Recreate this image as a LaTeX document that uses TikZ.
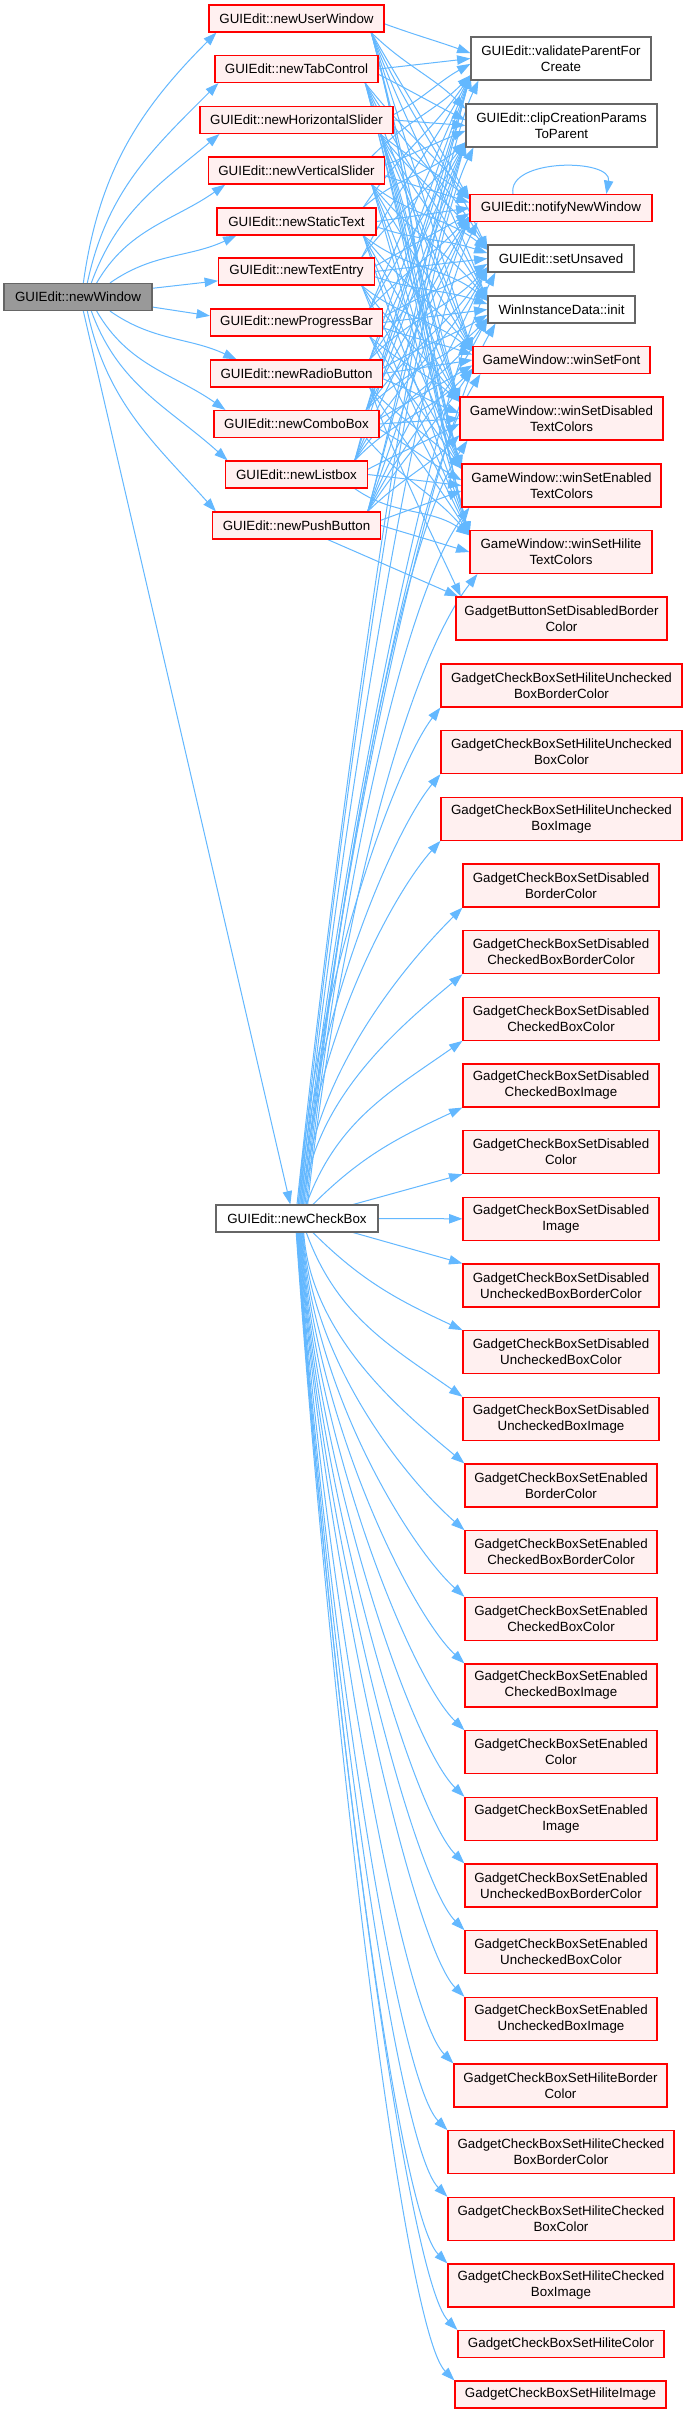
\documentclass[tikz,border=0pt]{standalone}
\usepackage{fontspec}
\setmainfont{Liberation Sans}
\usetikzlibrary{arrows.meta}
\definecolor{edgeblue}{HTML}{63B8FF}
\definecolor{nodered}{HTML}{FF0000}
\definecolor{nodepink}{HTML}{FFF0F0}
\definecolor{nodegray}{HTML}{666666}
\definecolor{rootfill}{HTML}{999999}
\pgfdeclarelayer{background}
\pgfsetlayers{background,main}
\begin{document}
\begin{tikzpicture}[x=0.75pt,y=-0.75pt,
  base/.style={draw, line width=0.85pt, inner sep=0pt, align=center, font=\fontsize{10pt}{12pt}\selectfont, minimum height=20.25pt},
  rbox/.style={base, draw=nodered, fill=nodepink},
  gbox/.style={base, draw=nodegray, fill=white},
  rootbox/.style={base, draw=nodegray, fill=rootfill},
  tall/.style={minimum height=32.25pt},
  boxw/.style={minimum width=#1*0.75pt},
  cg/.style={draw=edgeblue, line width=0.75pt, -{Triangle[length=10pt,width=7pt]}},
]
\begin{pgfonlayer}{background}
\fill[white] (0,0) rectangle (687,2413);
\end{pgfonlayer}
\useasboundingbox (0,0) rectangle (687,2413);

% root and middle column
\node[rootbox,boxw=148] (NW) at (78,297) {GUIEdit::newWindow};
\node[rbox,boxw=175] (UW) at (296.5,18.5) {GUIEdit::newUserWindow};
\node[rbox,boxw=163] (TC) at (296.5,69) {GUIEdit::newTabControl};
\node[rbox,boxw=193] (HS) at (296.5,120) {GUIEdit::newHorizontalSlider};
\node[rbox,boxw=176] (VS) at (296.5,170.5) {GUIEdit::newVerticalSlider};
\node[rbox,boxw=159] (ST) at (296.5,221.5) {GUIEdit::newStaticText};
\node[rbox,boxw=156] (TE) at (296.5,271.5) {GUIEdit::newTextEntry};
\node[rbox,boxw=172] (PB) at (296.5,322.5) {GUIEdit::newProgressBar};
\node[rbox,boxw=172] (RB) at (296.5,373.5) {GUIEdit::newRadioButton};
\node[rbox,boxw=165] (CB) at (296.5,424) {GUIEdit::newComboBox};
\node[rbox,boxw=142] (LB) at (296.5,474.5) {GUIEdit::newListbox};
\node[rbox,boxw=168] (PBt) at (296.5,525.5) {GUIEdit::newPushButton};
\node[gbox,boxw=162] (CK) at (297,1218.5) {GUIEdit::newCheckBox};

% right column
\node[gbox,tall,boxw=180] (VP) at (561,58.5) {GUIEdit::validateParentFor\\Create};
\node[gbox,tall,boxw=191] (CP) at (561.5,125.5) {GUIEdit::clipCreationParams\\ToParent};
\node[rbox,boxw=182] (NN) at (561,208) {GUIEdit::notifyNewWindow};
\node[gbox,boxw=146] (SU) at (561,258.5) {GUIEdit::setUnsaved};
\node[gbox,boxw=147] (II) at (561.5,309.5) {WinInstanceData::init};
\node[rbox,boxw=177] (WF) at (561.5,360) {GameWindow::winSetFont};
\node[rbox,tall,boxw=203] (WD) at (561.5,418.5) {GameWindow::winSetDisabled\\TextColors};
\node[rbox,tall,boxw=199] (WE) at (561.5,485.5) {GameWindow::winSetEnabled\\TextColors};
\node[rbox,tall,boxw=182] (WH) at (561,552) {GameWindow::winSetHilite\\TextColors};
\node[rbox,tall,boxw=211] (GB) at (561.5,618.5) {GadgetButtonSetDisabledBorder\\Color};
\node[rbox,tall,boxw=241] (K2) at (561.5,685.5) {GadgetCheckBoxSetHiliteUnchecked\\BoxBorderColor};
\node[rbox,tall,boxw=241] (K3) at (561.5,752.2) {GadgetCheckBoxSetHiliteUnchecked\\BoxColor};
\node[rbox,tall,boxw=241] (K4) at (561.5,818.8) {GadgetCheckBoxSetHiliteUnchecked\\BoxImage};
\node[rbox,tall,boxw=196] (K5) at (561,885.5) {GadgetCheckBoxSetDisabled\\BorderColor};
\node[rbox,tall,boxw=196] (K6) at (561,952.2) {GadgetCheckBoxSetDisabled\\CheckedBoxBorderColor};
\node[rbox,tall,boxw=196] (K7) at (561,1018.8) {GadgetCheckBoxSetDisabled\\CheckedBoxColor};
\node[rbox,tall,boxw=196] (K8) at (561,1085.5) {GadgetCheckBoxSetDisabled\\CheckedBoxImage};
\node[rbox,tall,boxw=196] (K9) at (561,1152.2) {GadgetCheckBoxSetDisabled\\Color};
\node[rbox,tall,boxw=196] (K10) at (561,1218.8) {GadgetCheckBoxSetDisabled\\Image};
\node[rbox,tall,boxw=196] (K11) at (561,1285.5) {GadgetCheckBoxSetDisabled\\UncheckedBoxBorderColor};
\node[rbox,tall,boxw=196] (K12) at (561,1352.2) {GadgetCheckBoxSetDisabled\\UncheckedBoxColor};
\node[rbox,tall,boxw=196] (K13) at (561,1418.8) {GadgetCheckBoxSetDisabled\\UncheckedBoxImage};
\node[rbox,tall,boxw=192] (K14) at (561,1485.5) {GadgetCheckBoxSetEnabled\\BorderColor};
\node[rbox,tall,boxw=192] (K15) at (561,1552.2) {GadgetCheckBoxSetEnabled\\CheckedBoxBorderColor};
\node[rbox,tall,boxw=192] (K16) at (561,1618.8) {GadgetCheckBoxSetEnabled\\CheckedBoxColor};
\node[rbox,tall,boxw=192] (K17) at (561,1685.5) {GadgetCheckBoxSetEnabled\\CheckedBoxImage};
\node[rbox,tall,boxw=192] (K18) at (561,1752.2) {GadgetCheckBoxSetEnabled\\Color};
\node[rbox,tall,boxw=192] (K19) at (561,1818.8) {GadgetCheckBoxSetEnabled\\Image};
\node[rbox,tall,boxw=192] (K20) at (561,1885.5) {GadgetCheckBoxSetEnabled\\UncheckedBoxBorderColor};
\node[rbox,tall,boxw=192] (K21) at (561,1952.2) {GadgetCheckBoxSetEnabled\\UncheckedBoxColor};
\node[rbox,tall,boxw=192] (K22) at (561,2018.8) {GadgetCheckBoxSetEnabled\\UncheckedBoxImage};
\node[rbox,tall,boxw=213] (K23) at (560.5,2085.5) {GadgetCheckBoxSetHiliteBorder\\Color};
\node[rbox,tall,boxw=226] (K24) at (561,2152.2) {GadgetCheckBoxSetHiliteChecked\\BoxBorderColor};
\node[rbox,tall,boxw=226] (K25) at (561,2218.8) {GadgetCheckBoxSetHiliteChecked\\BoxColor};
\node[rbox,tall,boxw=226] (K26) at (561,2285.5) {GadgetCheckBoxSetHiliteChecked\\BoxImage};
\node[rbox,boxw=206] (K27) at (561,2344) {GadgetCheckBoxSetHiliteColor};
\node[rbox,boxw=211] (K28) at (560.5,2394.5) {GadgetCheckBoxSetHiliteImage};

\begin{pgfonlayer}{background}
% root -> middle
\draw[cg] ([xshift=4pt]NW.north) to[out=82,in=225] ([xshift=6pt]UW.south west);
\draw[cg] ([xshift=7pt]NW.north) to[out=78,in=225] ([xshift=3pt]TC.south west);
\draw[cg] ([xshift=10pt]NW.north) to[out=70,in=220] ([xshift=15pt]HS.south west);
\draw[cg] ([xshift=14pt]NW.north) to[out=60,in=215] ([xshift=13pt]VS.south west);
\draw[cg] ([xshift=24pt]NW.north) to[out=35,in=205] ([xshift=15pt]ST.south west);
\draw[cg] ([yshift=-4pt]NW.north east) -- ([yshift=-7pt]TE.west);
\draw[cg] ([yshift=3pt]NW.south east) -- ([yshift=5pt]PB.west);
\draw[cg] ([xshift=24pt]NW.south) to[out=-35,in=155] ([xshift=20pt]RB.north west);
\draw[cg] ([xshift=14pt]NW.south) to[out=-60,in=145] ([xshift=9pt]CB.north west);
\draw[cg] ([xshift=10pt]NW.south) to[out=-70,in=138] ([xshift=2pt]LB.north west);
\draw[cg] ([xshift=7pt]NW.south) to[out=-78,in=132] ([xshift=3pt]PBt.north west);
\draw[cg] ([xshift=4pt]NW.south) -- ([xshift=-5pt]CK.north);

% middle -> shared callees
\foreach \s/\sy in {UW/18.5,TC/69,HS/120,VS/170.5,ST/221.5,TE/271.5,PB/322.5,RB/373.5,CB/424,LB/474.5,PBt/525.5}{
  \foreach \t/\ty in {VP/58.5,CP/125.5,NN/208,SU/258.5,II/309.5,WF/360,WD/418.5,WE/485.5,WH/552}{
    \pgfmathsetmacro\dy{\ty-\sy}
    \pgfmathsetmacro\ady{abs(\dy)}
    \pgfmathsetmacro\ang{min(75,atan(\ady/110))}
    \pgfmathsetmacro\angdn{-\ang}
    \pgfmathsetmacro\indn{180-\ang}
    \pgfmathsetmacro\inup{180+\ang}
    \ifdim\ady pt<30pt
      \draw[cg] (\s.east) -- (\t.west);
    \else\ifdim\dy pt>0pt
      \ifdim\ang pt<35pt
        \draw[cg] ([yshift=-4pt]\s.east) to[out=\angdn,in=\indn] ([yshift=4pt]\t.west);
      \else
        \draw[cg] ([xshift=-10pt]\s.south east) to[out=\angdn,in=\indn] ([yshift=-4pt]\t.north west);
      \fi
    \else
      \ifdim\ang pt<35pt
        \draw[cg] ([yshift=4pt]\s.east) to[out=\ang,in=\inup] ([yshift=-4pt]\t.west);
      \else
        \draw[cg] ([xshift=-10pt]\s.north east) to[out=\ang,in=\inup] ([yshift=4pt]\t.south west);
      \fi
    \fi\fi
  }
}

% button border colour
\draw[cg] ([xshift=-40pt]PBt.south east) -- ([xshift=2pt]GB.north west);
\draw[cg] ([xshift=-10pt]RB.south east) to[out=-70,in=115] ([xshift=4pt]GB.north west);

% self loop
\draw[cg] ([xshift=-36pt]NN.north) to[out=100,in=80] ([xshift=34pt]NN.north);

% newCheckBox -> shared callees
\foreach \t/\ty/\dx/\ia in {VP/58.5/0/245,CP/125.5/1/244,NN/208/2/243,SU/258.5/3/242,II/309.5/4/240,WF/360/5/238,WD/418.5/6/236,WE/485.5/7/234,WH/552/8/232}{
  \pgfmathsetmacro\od{0.30*(1205-\ty)}
  \draw[cg] ([xshift=\dx pt]CK.north) to[out=84,in=\ia,out distance=\od pt,in distance=90pt] ([xshift=6pt]\t.south west);
}

% newCheckBox -> gadget check box setters
\foreach \k/\dy/\dx/\ia in {2/533/1/232,3/467/2/230,4/400/3/228,5/333/4/225,6/267/5/220}{
  \pgfmathsetmacro\od{0.3*\dy}
  \draw[cg] ([xshift=\dx pt]CK.north) to[out=86,in=\ia,out distance=\od pt,in distance=55pt] (K\k.south west);
}
\draw[cg] ([xshift=7pt]CK.north) to[out=70,in=215] (K7.south west);
\draw[cg] ([xshift=12pt]CK.north) to[out=45,in=205] (K8.south west);
\draw[cg] ([xshift=-19pt]CK.north east) -- (K9.south west);
\draw[cg] (CK.east) -- (K10.west);
\draw[cg] ([xshift=-19pt]CK.south east) -- (K11.north west);
\draw[cg] ([xshift=12pt]CK.south) to[out=-45,in=155] (K12.north west);
\draw[cg] ([xshift=7pt]CK.south) to[out=-70,in=145] (K13.north west);
\foreach \k/\dy/\dx/\ia in {14/267/5/140,15/333/4.5/139,16/400/4/138,17/467/3.5/137,18/533/3/136,19/600/2.6/136,20/667/2.2/135,21/733/1.8/135,22/800/1.4/135,23/867/1/135,24/933/0.6/135,25/1000/0.3/135,26/1067/0/135,27/1125/-0.3/135,28/1176/-0.6/135}{
  \pgfmathsetmacro\od{0.3*\dy}
  \draw[cg] ([xshift=\dx pt]CK.south) to[out=-86,in=\ia,out distance=\od pt,in distance=55pt] (K\k.north west);
}
\end{pgfonlayer}
\end{tikzpicture}
\end{document}
